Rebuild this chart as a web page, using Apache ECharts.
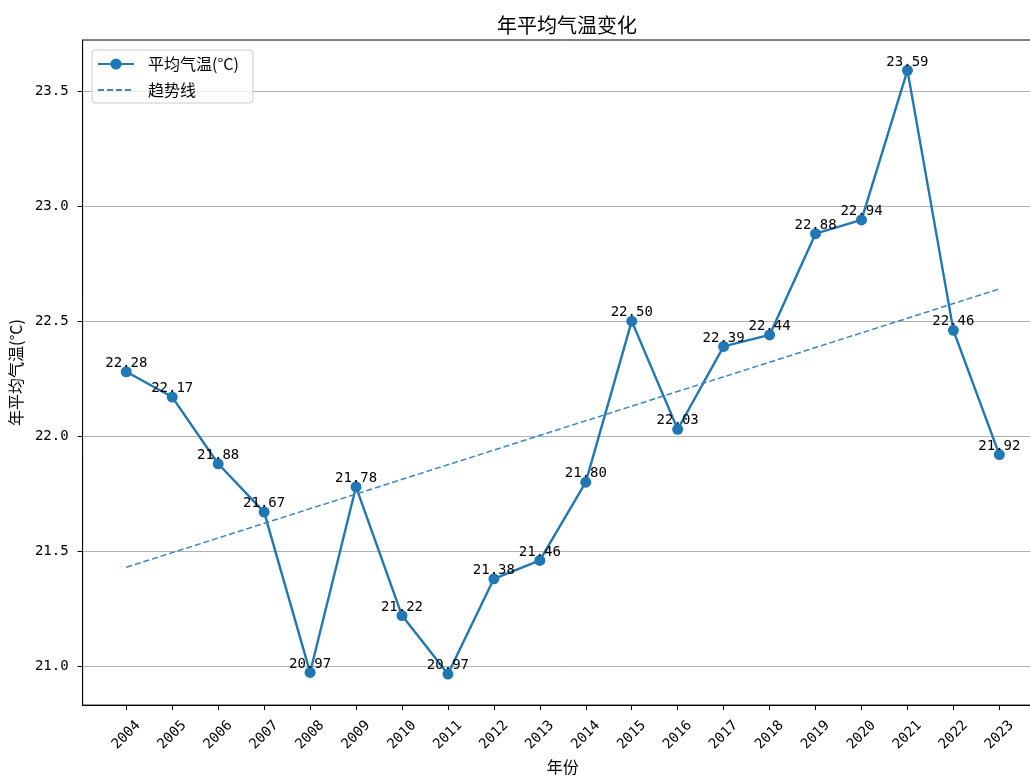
<!DOCTYPE html>
<html>
<head>
<meta charset="utf-8">
<script src="https://cdn.jsdelivr.net/npm/echarts@6/dist/echarts.min.js"></script>
<style>
html,body{margin:0;padding:0;background:#fff;overflow:hidden;width:1030px;height:780px;}
#chart{width:1044px;height:780px;}
</style>
</head>
<body>
<div id="chart"></div>
<script>
var years = [2004,2005,2006,2007,2008,2009,2010,2011,2012,2013,2014,2015,2016,2017,2018,2019,2020,2021,2022,2023];
var temps = [22.28,22.17,21.88,21.67,20.973,21.78,21.22,20.966,21.38,21.46,21.80,22.50,22.03,22.39,22.44,22.88,22.94,23.59,22.46,21.92];
var trendYears = [2004, 2023];
var trendValues = [21.43, 22.64];
var yTicks = [21.0, 21.5, 22.0, 22.5, 23.0, 23.5];

var numFont = '"DejaVu Sans Mono", monospace';
var cjkFont = '"Noto Sans CJK SC", sans-serif';

var mainData = years.map(function(y, i){ return [y, temps[i]]; });
var trendData = trendYears.map(function(y, i){ return [y, trendValues[i]]; });

var chart = echarts.init(document.getElementById('chart'), null, {renderer:'canvas'});
chart.setOption({
  animation: false,
  backgroundColor: '#fff',
  title: {
    text: '年平均气温变化',
    left: 492, top: 10,
    textStyle: {fontFamily: cjkFont, fontSize: 20, fontWeight: 'normal', color: '#000'}
  },
  legend: {
    orient: 'vertical',
    left: 92, top: 50,
    itemWidth: 36, itemHeight: 14, itemGap: 10,
    padding: [6, 14, 5, 5],
    borderColor: '#cccccc', borderWidth: 1, borderRadius: 3,
    backgroundColor: 'rgba(255,255,255,0.8)',
    textStyle: {fontFamily: cjkFont, fontSize: 16, color: '#000', padding: [0,0,0,9]},
    data: [
      {name: '平均气温(°C)'},
      {name: '趋势线', itemStyle: {opacity: 0}}
    ]
  },
  grid: {
    left: 82, top: 40, right: 1, bottom: 69,
    show: true, borderColor: '#000', borderWidth: 1, backgroundColor: 'transparent'
  },
  xAxis: {
    type: 'value',
    min: 2003.05, max: 2023.95,
    name: '年份', nameLocation: 'middle', nameGap: 53,
    nameTextStyle: {fontFamily: cjkFont, fontSize: 16, color: '#000'},
    axisLine: {show: true, lineStyle: {color: '#000', width: 1}},
    axisTick: {show: true, length: 5, customValues: years, lineStyle: {color: '#000'}},
    axisLabel: {
      customValues: years, rotate: 45, align: 'center', verticalAlign: 'middle', margin: 30,
      fontFamily: numFont, fontSize: 14, color: '#000',
      formatter: function(v){ return String(Math.round(v)); }
    },
    splitLine: {show: false}
  },
  yAxis: {
    type: 'value',
    min: 20.831, max: 23.722,
    name: '年平均气温(°C)', nameLocation: 'middle', nameGap: 56, nameRotate: 90,
    nameTextStyle: {fontFamily: cjkFont, fontSize: 16, color: '#000'},
    axisLine: {show: true, lineStyle: {color: '#000', width: 1}},
    axisTick: {show: true, length: 5, customValues: yTicks, lineStyle: {color: '#000'}},
    axisLabel: {
      customValues: yTicks, margin: 14,
      fontFamily: numFont, fontSize: 14, color: '#000',
      formatter: function(v){ return v.toFixed(1); }
    },
    splitLine: {show: true, lineStyle: {color: '#b0b0b0', width: 1}}
  },
  series: [
    {
      name: '平均气温(°C)',
      type: 'line',
      data: mainData,
      color: '#1f77b4',
      symbol: 'circle', symbolSize: 11,
      lineStyle: {width: 2.4, color: '#1f77b4'},
      itemStyle: {color: '#1f77b4'},
      label: {
        show: true, position: 'top', distance: -4,
        fontFamily: numFont, fontSize: 14, color: '#000',
        formatter: function(p){ return p.value[1].toFixed(2); }
      },
      emphasis: {disabled: true},
      z: 2
    },
    {
      name: '趋势线',
      type: 'line',
      data: trendData,
      color: '#3a86c2',
      symbol: 'none',
      lineStyle: {width: 1.5, type: [6, 3], color: '#3a86c2'},
      emphasis: {disabled: true},
      z: 3
    }
  ]
});
</script>
</body>
</html>
